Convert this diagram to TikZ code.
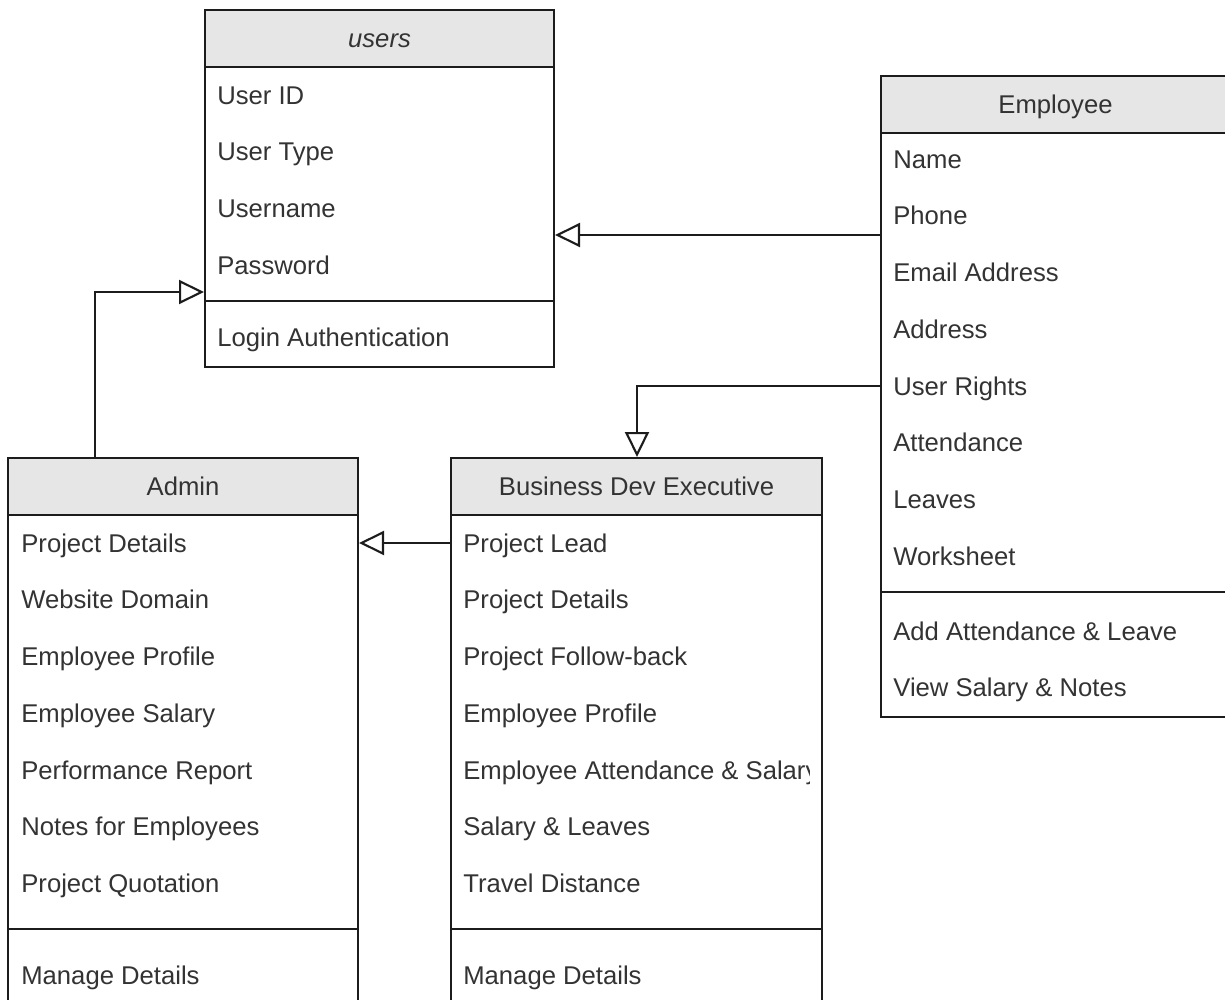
\documentclass[tikz,border=0pt]{standalone}
\usepackage{fontspec}
\setmainfont{Liberation Sans}
\usepackage{tikz}
\usetikzlibrary{arrows.meta}
\definecolor{umlline}{HTML}{1C1C1C}
\definecolor{umlhead}{HTML}{E6E6E6}
\definecolor{umltext}{HTML}{333333}
\tikzset{
	klass/.style={draw=umlline, line width=1.2pt, fill=white, anchor=north west,
			inner sep=0pt},
	khead/.style={klass, fill=umlhead, minimum height=1.14cm, text=umltext,
			text height=10.5pt, text depth=0pt,
			font=\fontsize{14.6pt}{17pt}\selectfont},
	attr/.style={anchor=west, inner sep=0pt, text=umltext,
			text height=10.5pt, text depth=0pt,
			font=\fontsize{14.6pt}{17pt}\selectfont},
	sep/.style={draw=umlline, line width=1.2pt},
	extends/.style={draw=umlline, line width=1.2pt,
			-{Triangle[open, length=0.5cm, width=0.48cm]}}
}

\begin{document}
\begin{tikzpicture}[x=0.02cm, y=-0.02cm]
	\useasboundingbox (0,0) rectangle (1225,1000);
	\node[klass, minimum width=6.98cm, minimum height=7.14cm] (users) at (204,9) {};
	\node[khead, minimum width=6.98cm] (users-head) at (users.north west) {\itshape users};
	\foreach \txt [count=\i] in {User ID, User Type, Username, Password}
	\node[attr] (users-\i) at (217,{95+56.7*(\i-1)}) {\txt};
	\draw[sep] (users.west |- 0,301) -- (users.east |- 0,301);
	\node[attr] (users-m1) at (217,337) {Login Authentication};

	\node[klass, minimum width=6.98cm, minimum height=12.82cm] (employee) at (880,75) {};
	\node[khead, minimum width=6.98cm] (employee-head) at (employee.north west) {Employee};
	\foreach \txt [count=\i] in {Name, Phone, Email Address, Address, User Rights,
			Attendance, Leaves, Worksheet}
	\node[attr] (employee-\i) at (893,{159+56.7*(\i-1)}) {\txt};
	\draw[sep] (employee.west |- 0,592) -- (employee.east |- 0,592);
	\node[attr] (employee-m1) at (893,631) {Add Attendance \& Leave};
	\node[attr] (employee-m2) at (893,687) {View Salary \& Notes};

	\node[klass, minimum width=7cm, minimum height=10.92cm] (admin) at (7,457) {};
	\node[khead, minimum width=7cm] (admin-head) at (admin.north west) {Admin};
	\foreach \txt [count=\i] in {Project Details, Website Domain, Employee Profile,
			Employee Salary, Performance Report, Notes for Employees, Project Quotation}
	\node[attr] (admin-\i) at (21,{543+56.7*(\i-1)}) {\txt};
	\draw[sep] (admin.west |- 0,929) -- (admin.east |- 0,929);
	\node[attr] (admin-m1) at (21,975) {Manage Details};

	\node[klass, minimum width=7.42cm, minimum height=10.92cm] (bde) at (450,457) {};
	\node[khead, minimum width=7.42cm] (bde-head) at (bde.north west) {Business Dev Executive};
	\begin{scope}
		\clip (450,514) rectangle (809,1003);
		\foreach \txt [count=\i] in {Project Lead, Project Details, Project Follow-back,
				Employee Profile, Employee Attendance \& Salary, Salary \& Leaves,
				Travel Distance}
		\node[attr] (bde-\i) at (463,{543+56.7*(\i-1)}) {\txt};
	\end{scope}
	\draw[sep] (bde.west |- 0,929) -- (bde.east |- 0,929);
	\node[attr] (bde-m1) at (463,975) {Manage Details};

	\draw[extends] (employee.west |- 0,235) -- (users.east |- 0,235);
	\draw[extends] (employee-5 -| employee.west) -| ([xshift=0.01cm]bde.north);
	\draw[extends] (bde-1 -| bde.west) -- (bde-1 -| admin.east);
	\draw[extends] ([xshift=1.76cm]admin.north west) |- (users.west |- 0,292);
\end{tikzpicture}
\end{document}
